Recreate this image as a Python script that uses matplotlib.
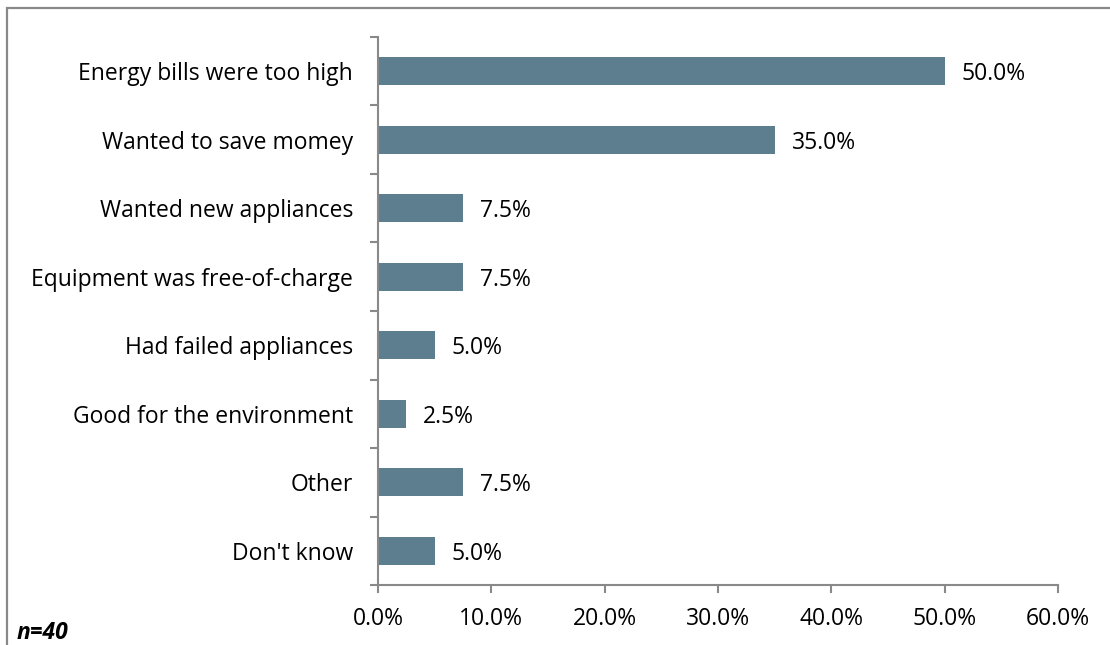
import matplotlib
matplotlib.use("Agg")
import matplotlib.pyplot as plt
from matplotlib.patches import Rectangle
from matplotlib.ticker import FuncFormatter

plt.rcParams['font.family'] = ['Open Sans', 'DejaVu Sans']

# survey responses, top to bottom
reasons = [
    "Energy bills were too high",
    "Wanted to save momey",
    "Wanted new appliances",
    "Equipment was free-of-charge",
    "Had failed appliances",
    "Good for the environment",
    "Other",
    "Don't know",
]
shares = [50.0, 35.0, 7.5, 7.5, 5.0, 2.5, 7.5, 5.0]
x_ticks = [0, 10, 20, 30, 40, 50, 60]
sample_note = "n=40"

bar_color = "#5d7e8f"
axis_color = "#898989"
fs = 16.5

fig = plt.figure(figsize=(11.1, 6.45), dpi=100)
ax = fig.add_axes([378 / 1110, 1 - 585 / 645, 680 / 1110, 548 / 645])

ypos = list(range(len(reasons)))[::-1]
ax.barh(ypos, shares, height=0.41, color=bar_color, zorder=2)
for y, v in zip(ypos, shares):
    ax.text(v + 1.5, y, f"{v:.1f}%", va="center_baseline", ha="left", fontsize=fs)

ax.set_xlim(0, 60)
ax.set_ylim(-0.5, len(reasons) - 0.5)
ax.set_xticks(x_ticks)
ax.xaxis.set_major_formatter(FuncFormatter(lambda v, _: f"{v:.1f}%"))
ax.set_yticks(ypos)
ax.set_yticklabels(reasons, va="center_baseline")
ax.set_yticks([i - 0.5 for i in range(len(reasons) + 1)], minor=True)

for s in ("top", "right"):
    ax.spines[s].set_visible(False)
for s in ("left", "bottom"):
    ax.spines[s].set_color(axis_color)
    ax.spines[s].set_linewidth(1.5)

ax.tick_params(axis="y", which="major", length=0, pad=18, labelsize=fs)
ax.tick_params(axis="y", which="minor", length=5.5, width=1.5, color=axis_color)
ax.tick_params(axis="x", length=5.5, width=1.5, color=axis_color, pad=10, labelsize=fs)

fig.text(17 / 1110, 1 - 639 / 645, sample_note, fontsize=fs, fontweight="bold",
         fontstyle="italic", va="baseline", ha="left")

# outer chart frame
fig.patches.append(Rectangle((7 / 1110, -0.1), 1.2, 1 - 8 / 645 + 0.1,
                             transform=fig.transFigure, fill=False,
                             edgecolor=axis_color, linewidth=1.6))

fig.savefig("out.png", dpi=100)
